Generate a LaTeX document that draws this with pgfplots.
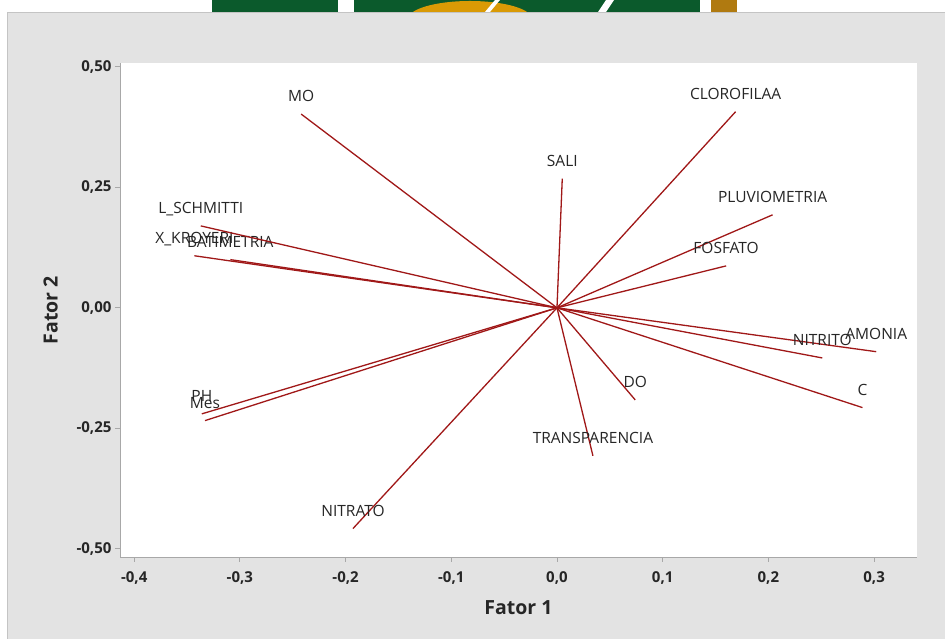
\documentclass[border=0pt]{standalone}
\usepackage{pgfplots}
\pgfplotsset{compat=1.18}
\usepackage{fontspec}
\setmainfont{Open Sans}

\definecolor{panel}{HTML}{E3E3E3}
\definecolor{paneledge}{HTML}{C4C4C4}
\definecolor{vec}{HTML}{A01818}
\definecolor{axgray}{HTML}{A8A8A8}
\definecolor{logogreen}{HTML}{0B5A2C}
\definecolor{logoorange}{HTML}{D99A05}
\definecolor{logobrown}{HTML}{B07A10}

\tikzset{lbl/.style={anchor=base, yshift=12.5pt, inner sep=0pt,
  font=\fontsize{15.5}{17}\selectfont, text=black!85},
  loading/.style={vec, solid, line width=1.3pt, mark=none}}

\begin{document}
\begin{tikzpicture}[x=1pt,y=1pt]
\useasboundingbox (0,0) rectangle (945,639);
% page strip above the chart panel
\fill[white] (0,0) rectangle (945,639);
\fill[logogreen] (212,627) rectangle (700,639);
\fill[white] (338,627) rectangle (354,639);
\fill[white] (598,627) -- (606,639) -- (614,639) -- (606,627) -- cycle;
\fill[logoorange] (470,620) ellipse (62 and 18);
\fill[white] (485,627) -- (495,639) -- (500,639) -- (490,627) -- cycle;
\fill[logobrown] (711,627) rectangle (737,639);
% chart panel
\fill[panel] (7,0) rectangle (945,627);
\draw[paneledge, line width=1pt] (7.5,0) -- (7.5,626.5) -- (945,626.5);

\begin{axis}[
  at={(120pt,82pt)}, anchor=south west,
  scale only axis, width=797pt, height=494pt,
  xmin=-0.4134, xmax=0.3406, ymin=-0.517, ymax=0.508,
  axis background/.style={fill=white},
  axis line style={axgray, line width=0.9pt},
  xtick={-0.4,-0.3,-0.2,-0.1,0,0.1,0.2,0.3},
  ytick={-0.5,-0.25,0,0.25,0.5},
  tick align=outside, major tick length=5pt,
  tick style={axgray, line width=0.8pt},
  axis x line*=bottom, axis y line*=left,
  x tick label style={/pgf/number format/use comma, /pgf/number format/fixed,
    /pgf/number format/fixed zerofill, /pgf/number format/precision=1,
    /pgf/number format/assume math mode=true, yshift=-6pt},
  y tick label style={/pgf/number format/use comma, /pgf/number format/fixed,
    /pgf/number format/fixed zerofill, /pgf/number format/precision=2,
    /pgf/number format/assume math mode=true},
  ticklabel style={font=\fontsize{15}{17}\selectfont\bfseries, text=black!85},
  xlabel={Fator 1}, ylabel={Fator 2},
  label style={font=\fontsize{19.5}{22}\selectfont\bfseries, text=black!85},
  xlabel style={yshift=-9pt},
  ylabel style={yshift=12pt},
  clip=false,
]
\addplot[loading] coordinates {(0,0) (-0.242,0.402)} node[at end, lbl] {MO};
\addplot[loading] coordinates {(0,0) (0.169,0.407)} node[at end, lbl] {CLOROFILAA};
\addplot[loading] coordinates {(0,0) (0.005,0.268)} node[at end, lbl] {SALI};
\addplot[loading] coordinates {(0,0) (0.204,0.193)} node[at end, lbl] {PLUVIOMETRIA};
\addplot[loading] coordinates {(0,0) (0.160,0.087)} node[at end, lbl] {FOSFATO};
\addplot[loading] coordinates {(0,0) (0.302,-0.091)} node[at end, lbl] {AMONIA};
\addplot[loading] coordinates {(0,0) (0.251,-0.104)} node[at end, lbl] {NITRITO};
\addplot[loading] coordinates {(0,0) (0.289,-0.207)} node[at end, lbl] {C};
\addplot[loading] coordinates {(0,0) (0.074,-0.191)} node[at end, lbl] {DO};
\addplot[loading] coordinates {(0,0) (0.034,-0.307)} node[at end, lbl] {TRANSPARENCIA};
\addplot[loading] coordinates {(0,0) (-0.193,-0.458)} node[at end, lbl] {NITRATO};
\addplot[loading] coordinates {(0,0) (-0.336,-0.220)} node[at end, lbl] {PH};
\addplot[loading] coordinates {(0,0) (-0.333,-0.234)} node[at end, lbl] {Mes};
\addplot[loading] coordinates {(0,0) (-0.343,0.108)} node[at end, lbl] {X\_KROYERI};
\addplot[loading] coordinates {(0,0) (-0.309,0.100)} node[at end, lbl] {BATIMETRIA};
\addplot[loading] coordinates {(0,0) (-0.337,0.170)} node[at end, lbl] {L\_SCHMITTI};
\end{axis}
\end{tikzpicture}
\end{document}
